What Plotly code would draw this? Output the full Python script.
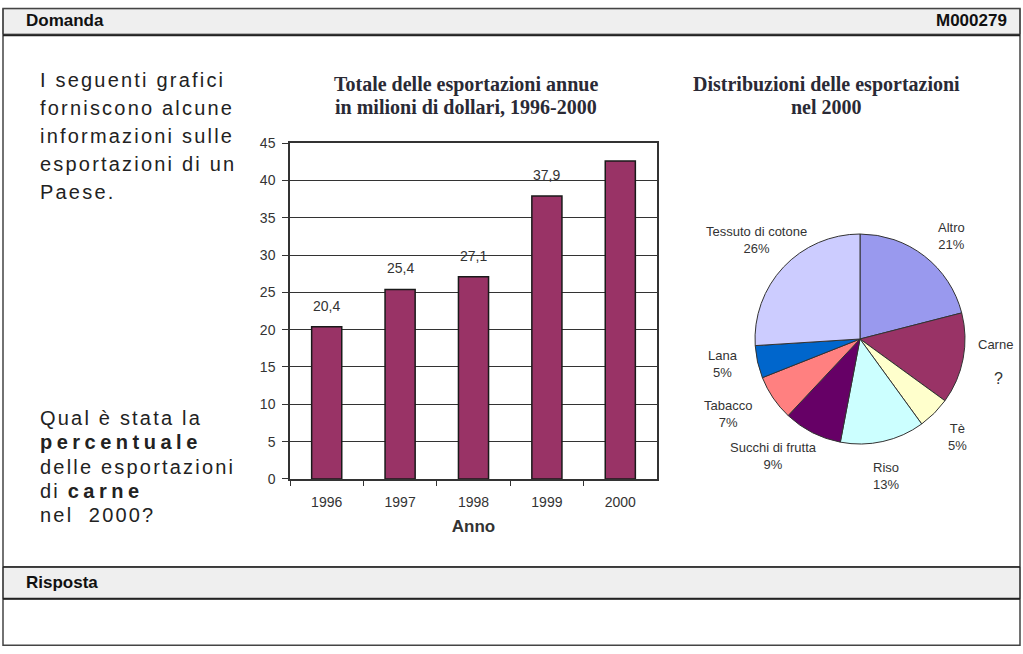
import plotly.graph_objects as go

W, H = 1023, 654
# observed page placement of the figure: screen_y = OFF + K * figure_y
OFF, K = 7.8, 0.9761

# ---- data ----
anni = ["1996", "1997", "1998", "1999", "2000"]
esportazioni = [20.4, 25.4, 27.1, 37.9, 42.6]
etichette_barre = ["20,4", "25,4", "27,1", "37,9", ""]

settori = ["Altro", "Carne", "Tè", "Riso", "Succhi di frutta", "Tabacco", "Lana", "Tessuto di cotone"]
quote = [21, 14, 5, 13, 9, 7, 5, 26]
quote_testo = ["21%", "?", "5%", "13%", "9%", "7%", "5%", "26%"]
colori_pie = ["#9999ee", "#993366", "#ffffcc", "#ccffff", "#660066", "#ff8080", "#0066cc", "#ccccff"]

y_ticks = [0, 5, 10, 15, 20, 25, 30, 35, 40, 45]

intro = ["I seguenti grafici", "forniscono alcune", "informazioni sulle", "esportazioni di un", "Paese."]
domanda = ["Qual è stata la", "<b>percentuale</b>", "delle esportazioni", "di <b>carne</b>", "nel  2000?"]

SANS = "Liberation Sans, Arial, sans-serif"
SERIF = "Liberation Serif, Times New Roman, serif"


def px(x):
    return x / W


def py(y):
    yf = (y - OFF) / K
    return min(1.0, max(0.0, 1 - yf / H))


def note(x, y, text, size, family=SANS, color="#333333", xanchor="center", align="center"):
    return dict(x=px(x), y=py(y), xref="paper", yref="paper", text=text, showarrow=False,
                xanchor=xanchor, yanchor="middle", align=align,
                font=dict(family=family, size=size, color=color))


fig = go.Figure()

fig.add_trace(go.Bar(
    x=anni, y=esportazioni,
    marker=dict(color="#993366", line=dict(color="#1a1a1a", width=1.5)),
    width=0.41, xaxis="x", yaxis="y", showlegend=False, hoverinfo="x+y",
))

fig.add_trace(go.Pie(
    labels=settori, values=quote, sort=False, direction="clockwise", rotation=0,
    marker=dict(colors=colori_pie, line=dict(color="#333333", width=1)),
    textinfo="none", showlegend=False,
    domain=dict(x=[px(755), px(965)], y=[py(447), py(231)]),
))

annotations = []
# left text first (indices 0..9 get letter spacing in post_script)
for i, line in enumerate(intro):
    annotations.append(note(38, 80 + 28 * i, line, 20, color="#222222", xanchor="left", align="left"))
for i, line in enumerate(domanda):
    annotations.append(note(38, 418 + 24.3 * i, line, 20, color="#222222", xanchor="left", align="left"))

# data labels on bars (category index positions)
for i, (v, t) in enumerate(zip(esportazioni, etichette_barre)):
    if t:
        annotations.append(dict(x=i, y=v, xref="x", yref="y", text=t, showarrow=False,
                                xanchor="center", yanchor="middle", yshift=21,
                                font=dict(family=SANS, size=14, color="#333333")))

# pie labels (positioned in pixels)
pie_pos = {
    "Altro": (951, 236),
    "Carne": (995, 344),
    "Tè": (957, 437),
    "Riso": (886, 476),
    "Succhi di frutta": (773, 456),
    "Tabacco": (728, 414),
    "Lana": (723, 364),
    "Tessuto di cotone": (756, 240),
}
for s, q in zip(settori, quote_testo):
    x0, y0 = pie_pos[s]
    if s == "Carne":
        annotations.append(note(x0, y0, s, 13))
        annotations.append(note(998, 379, q, 16))
    else:
        annotations.append(note(x0, y0, s + "<br>" + q, 13))

# titles (one annotation per line)
annotations += [
    note(466, 84, "<b>Totale delle esportazioni annue</b>", 20, family=SERIF, color="#2a2a35"),
    note(466, 107, "<b>in milioni di dollari, 1996-2000</b>", 20, family=SERIF, color="#2a2a35"),
    note(826, 84, "<b>Distribuzioni delle esportazioni</b>", 20, family=SERIF, color="#2a2a35"),
    note(826, 107, "<b>nel 2000</b>", 20, family=SERIF, color="#2a2a35"),
    # header texts
    note(24, 20, "<b>Domanda</b>", 17, color="#111111", xanchor="left"),
    note(1009, 20, "<b>M000279</b>", 17, color="#111111", xanchor="right"),
    note(24, 583, "<b>Risposta</b>", 17, color="#111111", xanchor="left"),
]

TOP_EDGE, BOTTOM_EDGE = 8.4, 645.4
shapes = [
    dict(type="rect", xref="paper", yref="paper", x0=px(3), x1=px(1020), y0=py(34), y1=py(TOP_EDGE),
         fillcolor="#efefef", line=dict(color="#333333", width=1), layer="below"),
    dict(type="rect", xref="paper", yref="paper", x0=px(3), x1=px(1020), y0=py(599), y1=py(567),
         fillcolor="#efefef", line=dict(color="#333333", width=1), layer="below"),
    dict(type="rect", xref="paper", yref="paper", x0=px(3), x1=px(1020), y0=py(BOTTOM_EDGE), y1=py(TOP_EDGE),
         fillcolor="rgba(0,0,0,0)", line=dict(color="#444444", width=1.5)),
    dict(type="line", xref="paper", yref="paper", x0=px(3), x1=px(1020), y0=py(35), y1=py(35),
         line=dict(color="#222222", width=2)),
    dict(type="line", xref="paper", yref="paper", x0=px(3), x1=px(1020), y0=py(567), y1=py(567),
         line=dict(color="#222222", width=1.5)),
    dict(type="line", xref="paper", yref="paper", x0=px(3), x1=px(1020), y0=py(599), y1=py(599),
         line=dict(color="#222222", width=2)),
]

fig.update_layout(
    width=W, height=H,
    margin=dict(l=0, r=0, t=0, b=0),
    paper_bgcolor="white", plot_bgcolor="white",
    showlegend=False,
    xaxis=dict(domain=[px(290), px(657)], anchor="y", type="category", range=[-0.5, 4.5],
               showline=True, mirror=True, linecolor="#333333", linewidth=1.5, ticks="outside",
               tickson="boundaries", ticklen=5, tickcolor="#333333", ticklabelstandoff=10,
               tickfont=dict(family=SANS, size=14, color="#333333"),
               title=dict(text="<b>Anno</b>", font=dict(family=SANS, size=17, color="#333333"), standoff=11),
               showgrid=False, fixedrange=True),
    yaxis=dict(domain=[py(479), py(143)], anchor="x", range=[0, 45], tickvals=y_ticks, showline=True,
               mirror=True, linecolor="#333333", linewidth=1.5, ticks="outside", ticklen=6,
               tickcolor="#333333", showgrid=True, gridcolor="#333333", gridwidth=1,
               ticklabelstandoff=4,
               tickfont=dict(family=SANS, size=14, color="#333333"),
               zeroline=False, fixedrange=True),
    annotations=annotations,
    shapes=shapes,
)

post = """
document.body.style.margin = '0';
var gd = document.getElementById('{plot_id}');
gd.querySelectorAll('g.annotation').forEach(function(g) {
  var idx = parseInt(g.getAttribute('data-index'), 10);
  if (idx < 10) {
    var t = g.querySelector('text');
    if (t) {
      t.style.letterSpacing = '2.2px';
      t.querySelectorAll('tspan').forEach(function(s) {
        var sty = s.getAttribute('style') || '';
        if (sty.indexOf('bold') >= 0) { s.style.letterSpacing = '4.5px'; }
      });
    }
  }
});
"""

fig.write_html("out.html", post_script=post)
